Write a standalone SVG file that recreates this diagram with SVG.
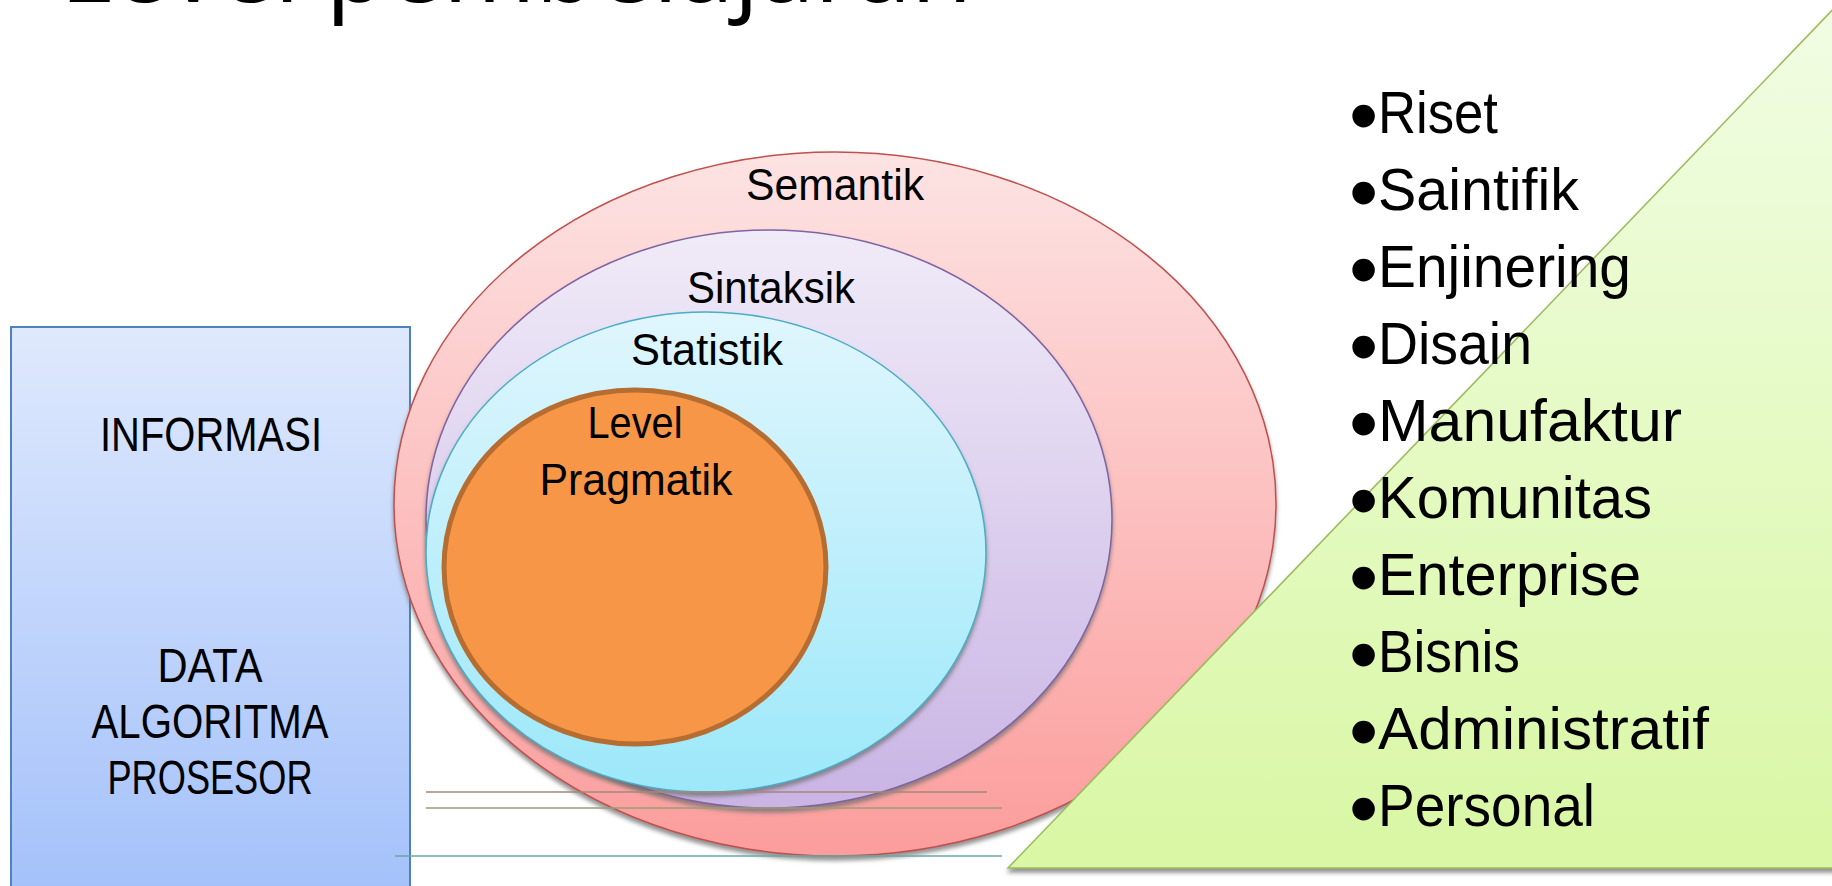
<svg xmlns="http://www.w3.org/2000/svg" width="1832" height="886" viewBox="0 0 1832 886">
  <style>
    text { font-family: "Liberation Sans", Arial, sans-serif; fill: #000; }
    .title { font-family: "Open Sans", "Liberation Sans", sans-serif; font-size: 100px; }
    .box { font-size: 48px; text-anchor: middle; }
    .lbl { font-size: 45px; text-anchor: middle; }
    .li { font-size: 60px; }
    .bul { font-size: 72px; stroke: #000; stroke-width: 3px; }
    .shadow { filter: url(#sh); }
  </style>
  <defs>
    <linearGradient id="gBox" x1="0" y1="0" x2="0" y2="1">
      <stop offset="0" stop-color="#dfe9fd"/>
      <stop offset="1" stop-color="#a2c0fa"/>
    </linearGradient>
    <linearGradient id="gRed" x1="0" y1="0" x2="0" y2="1">
      <stop offset="0" stop-color="#fde3e3"/>
      <stop offset="1" stop-color="#fb9d9c"/>
    </linearGradient>
    <linearGradient id="gPur" x1="0" y1="0" x2="0" y2="1">
      <stop offset="0" stop-color="#f0ebf8"/>
      <stop offset="1" stop-color="#c9b4e4"/>
    </linearGradient>
    <linearGradient id="gCya" x1="0" y1="0" x2="0" y2="1">
      <stop offset="0" stop-color="#e0f6fd"/>
      <stop offset="1" stop-color="#9ce8fa"/>
    </linearGradient>
    <linearGradient id="gTri" x1="0" y1="0" x2="0" y2="1">
      <stop offset="0" stop-color="#f1fde4"/>
      <stop offset="1" stop-color="#d9f7a4"/>
    </linearGradient>
    <filter id="sh" x="-5%" y="-5%" width="110%" height="115%">
      <feDropShadow dx="0" dy="4" stdDeviation="2" flood-color="#6e6e6e" flood-opacity="0.75"/>
    </filter>
  </defs>

  <g id="title">
    <text class="title" x="60" y="2">Level pembelajaran</text>
  </g>

  <g id="box-info">
    <rect x="11" y="327" width="399" height="580" fill="url(#gBox)" stroke="#4f81bd" stroke-width="2"/>
    <text class="box" x="211" y="451" textLength="222" lengthAdjust="spacingAndGlyphs">INFORMASI</text>
    <text class="box" x="210" y="682" textLength="105" lengthAdjust="spacingAndGlyphs">DATA</text>
    <text class="box" x="210" y="738" textLength="237" lengthAdjust="spacingAndGlyphs">ALGORITMA</text>
    <text class="box" x="210" y="794" textLength="205" lengthAdjust="spacingAndGlyphs">PROSESOR</text>
  </g>

  <g id="ellipse-semantik">
    <ellipse class="shadow" cx="835" cy="504" rx="441" ry="352" fill="url(#gRed)" stroke="#c0504d" stroke-width="1.5"/>
    <text class="lbl" x="835" y="200" textLength="178" lengthAdjust="spacingAndGlyphs">Semantik</text>
  </g>

  <g id="ellipse-sintaksik">
    <ellipse class="shadow" cx="769" cy="519" rx="343" ry="289" fill="url(#gPur)" stroke="#8064a2" stroke-width="1.5"/>
    <text class="lbl" x="771" y="303" textLength="168" lengthAdjust="spacingAndGlyphs">Sintaksik</text>
  </g>

  <g id="ellipse-statistik">
    <ellipse class="shadow" cx="706" cy="552" rx="280" ry="240" fill="url(#gCya)" stroke="#4bacc6" stroke-width="1.5"/>
    <text class="lbl" x="707" y="365" textLength="152" lengthAdjust="spacingAndGlyphs">Statistik</text>
  </g>

  <g id="ellipse-pragmatik">
    <ellipse cx="635" cy="567" rx="191" ry="177" fill="#f79646" stroke="#b66d31" stroke-width="5"/>
    <text class="lbl" x="635" y="438" textLength="95" lengthAdjust="spacingAndGlyphs">Level</text>
    <text class="lbl" x="636" y="495" textLength="193" lengthAdjust="spacingAndGlyphs">Pragmatik</text>
  </g>

  <g id="connectors" fill="none" stroke-width="1.5">
    <line x1="426" y1="792" x2="987" y2="792" stroke="#a5877a"/>
    <line x1="426" y1="808" x2="1002" y2="808" stroke="#9a9c7a"/>
    <line x1="395" y1="856" x2="1002" y2="856" stroke="#6aa7a3"/>
  </g>

  <g id="triangle-list">
    <polygon class="shadow" points="1008,868 1842,0 1842,868" fill="url(#gTri)" stroke="#9bbb59" stroke-width="1.5"/>
    <text class="li" y="133"><tspan class="bul" x="1351" dy="7">•</tspan><tspan x="1378" dy="-7" textLength="120" lengthAdjust="spacingAndGlyphs">Riset</tspan></text>
    <text class="li" y="210"><tspan class="bul" x="1351" dy="7">•</tspan><tspan x="1378" dy="-7" textLength="201" lengthAdjust="spacingAndGlyphs">Saintifik</tspan></text>
    <text class="li" y="287"><tspan class="bul" x="1351" dy="7">•</tspan><tspan x="1378" dy="-7" textLength="253" lengthAdjust="spacingAndGlyphs">Enjinering</tspan></text>
    <text class="li" y="364"><tspan class="bul" x="1351" dy="7">•</tspan><tspan x="1378" dy="-7" textLength="154" lengthAdjust="spacingAndGlyphs">Disain</tspan></text>
    <text class="li" y="441"><tspan class="bul" x="1351" dy="7">•</tspan><tspan x="1378" dy="-7" textLength="304" lengthAdjust="spacingAndGlyphs">Manufaktur</tspan></text>
    <text class="li" y="518"><tspan class="bul" x="1351" dy="7">•</tspan><tspan x="1378" dy="-7" textLength="274" lengthAdjust="spacingAndGlyphs">Komunitas</tspan></text>
    <text class="li" y="595"><tspan class="bul" x="1351" dy="7">•</tspan><tspan x="1378" dy="-7" textLength="263" lengthAdjust="spacingAndGlyphs">Enterprise</tspan></text>
    <text class="li" y="672"><tspan class="bul" x="1351" dy="7">•</tspan><tspan x="1378" dy="-7" textLength="142" lengthAdjust="spacingAndGlyphs">Bisnis</tspan></text>
    <text class="li" y="749"><tspan class="bul" x="1351" dy="7">•</tspan><tspan x="1378" dy="-7" textLength="331" lengthAdjust="spacingAndGlyphs">Administratif</tspan></text>
    <text class="li" y="826"><tspan class="bul" x="1351" dy="7">•</tspan><tspan x="1378" dy="-7" textLength="217" lengthAdjust="spacingAndGlyphs">Personal</tspan></text>
  </g>
</svg>
